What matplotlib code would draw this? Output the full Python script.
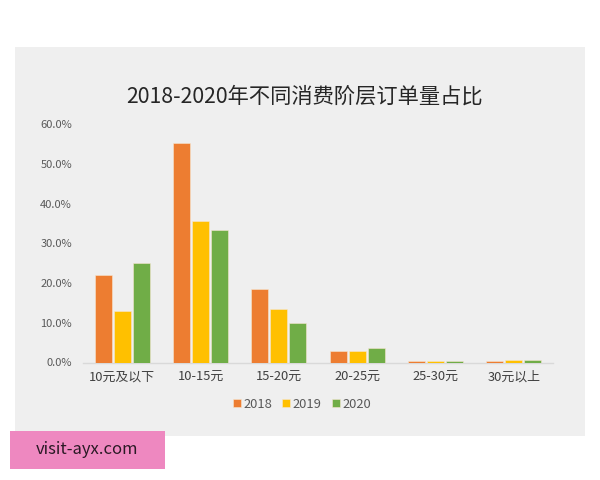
import matplotlib
matplotlib.use("Agg")
import matplotlib.pyplot as plt
from matplotlib.patches import Rectangle
import numpy as np

plt.rcParams['font.family'] = ['Noto Sans CJK SC', 'DejaVu Sans']

categories = ["10元及以下", "10-15元", "15-20元", "20-25元", "25-30元", "30元以上"]
years = ["2018", "2019", "2020"]
v2018 = [22.1, 55.3, 18.6, 2.8, 0.5, 0.5]
v2019 = [12.9, 35.6, 13.4, 2.8, 0.5, 0.6]
v2020 = [25.0, 33.5, 9.9, 3.6, 0.3, 0.6]
yticks = [0, 10, 20, 30, 40, 50, 60]
title = "2018-2020年不同消费阶层订单量占比"
watermark = "visit-ayx.com"

colors = ["#ED7D31", "#FFC000", "#70AD47"]

fig = plt.figure(figsize=(6, 4.8), dpi=100)
fig.patch.set_facecolor("white")

# gray panel
fig.patches.append(Rectangle((15/600, 1-436/480), 570/600, 389/480,
                             transform=fig.transFigure, facecolor="#EFEFEF",
                             edgecolor="none", zorder=-1))

ax = fig.add_axes([83/600, 1-362.5/480, 470/600, (362.5-124.3)/480])
ax.set_zorder(1)
ax.set_facecolor("none")
x = np.arange(len(categories))
w = 0.215
off = 0.243
for i, (vals, c, lab) in enumerate(zip([v2018, v2019, v2020], colors, years)):
    ax.bar(x + (i-1)*off, vals, width=w, color=c, label=lab, zorder=3,
           edgecolor="#F6E6D0", linewidth=0.4)

ax.set_xlim(-0.5, len(categories)-0.5)
ax.set_ylim(0, 60)
ax.set_yticks(yticks)
ax.set_yticklabels([f"{t:.1f}%" for t in yticks], fontsize=8, color="#595959")
ax.set_xticks(x)
ax.set_xticklabels(categories, fontsize=9.3, color="#404040")
ax.tick_params(axis='both', length=0)
ax.tick_params(axis='y', pad=8)
ax.tick_params(axis='x', pad=6)
for s in ["top", "right", "left"]:
    ax.spines[s].set_visible(False)
ax.spines["bottom"].set_color("#D9D9D9")
ax.spines["bottom"].set_linewidth(1.0)

fig.text(0.507, 1-97/480, title, ha="center", va="center", fontsize=15.3, color="#262626")

leg = ax.legend(loc="center", bbox_to_anchor=((302-83)/470, (362.5-404)/(362.5-124.3)),
                ncol=3, frameon=False, fontsize=9.3, handlelength=0.6, handleheight=0.6,
                handletextpad=0.2, columnspacing=0.8, borderaxespad=0)
for t in leg.get_texts():
    t.set_color("#595959")

# watermark
fig.patches.append(Rectangle((10/600, 1-469/480), 155/600, 38/480,
                             transform=fig.transFigure, facecolor="#EE88C0",
                             edgecolor="none", zorder=5))
fig.text(87/600, 1-450/480, watermark, ha="center", va="center", fontsize=12,
         color="#2A1A25", zorder=6)

fig.savefig("out.png", dpi=100, facecolor="white")
